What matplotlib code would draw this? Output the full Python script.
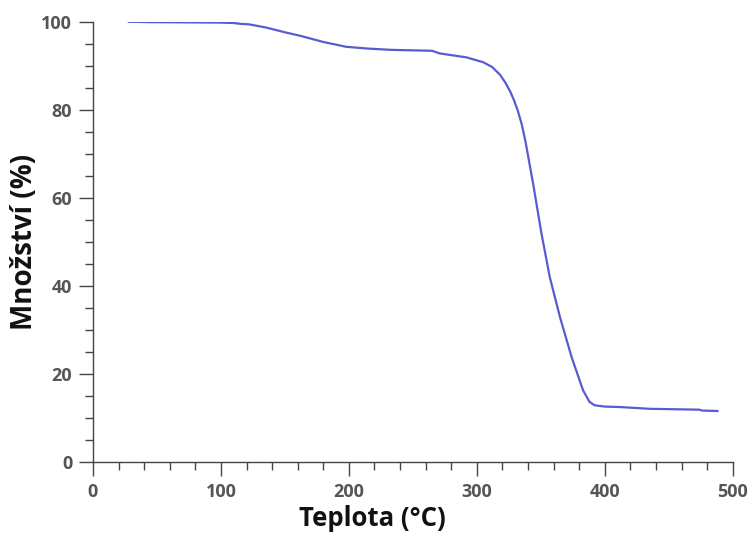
import matplotlib
matplotlib.use("Agg")
import matplotlib.pyplot as plt
from matplotlib.ticker import MultipleLocator

# Data (TGA curve)
teplota = [28, 45, 100, 110, 116, 122, 135, 150, 162, 180, 198, 215, 234, 265, 271,
           292, 305, 312, 318, 322, 326, 329, 332, 335, 338, 341, 344, 350.5, 357, 365,
           374, 383, 388, 392, 400, 412, 435, 474, 476, 488]
mnozstvi = [100, 99.9, 99.8, 99.7, 99.5, 99.4, 98.7, 97.6, 96.8, 95.4, 94.3, 93.9, 93.6,
            93.4, 92.8, 91.9, 90.8, 89.7, 88.0, 86.3, 84.2, 82.2, 79.8, 76.8, 72.8, 68.0,
            63.2, 51.9, 42.0, 32.9, 23.9, 16.3, 13.7, 12.9, 12.6, 12.5, 12.1, 11.9, 11.7,
            11.6]

x_major = [0, 100, 200, 300, 400, 500]
y_major = [0, 20, 40, 60, 80, 100]

fig = plt.figure(figsize=(7.5, 5.43), dpi=100)
ax = fig.add_axes([0.124, 0.149, 0.853, 0.811])

ax.plot(teplota, mnozstvi, color="#5a5ad2", lw=1.6)

ax.set_xlim(0, 500)
ax.set_ylim(0, 100)
ax.set_xticks(x_major)
ax.set_yticks(y_major)
ax.xaxis.set_minor_locator(MultipleLocator(20))
ax.yaxis.set_minor_locator(MultipleLocator(5))

for s in ["top", "right"]:
    ax.spines[s].set_visible(False)
for s in ["left", "bottom"]:
    ax.spines[s].set_color("#444444")
    ax.spines[s].set_linewidth(1.0)

ax.tick_params(which="major", length=10, width=1.0, color="#444444", direction="out",
               labelsize=13, labelcolor="#555555", pad=5)
ax.tick_params(which="minor", length=6, width=1.0, color="#444444", direction="out")
for lab in ax.get_xticklabels() + ax.get_yticklabels():
    lab.set_fontfamily("Open Sans")
    lab.set_fontweight("bold")

ax.set_xlabel("Teplota (°C)", fontsize=18.5, fontweight="bold", family="Open Sans",
              color="#111111")
ax.set_ylabel("Množství (%)", fontsize=20, fontweight="bold", family="Open Sans",
              color="#111111")
ax.xaxis.set_label_coords(0.436, -0.098)
ax.yaxis.set_label_coords(-0.084, 0.5)

fig.savefig("out.png", dpi=100)
